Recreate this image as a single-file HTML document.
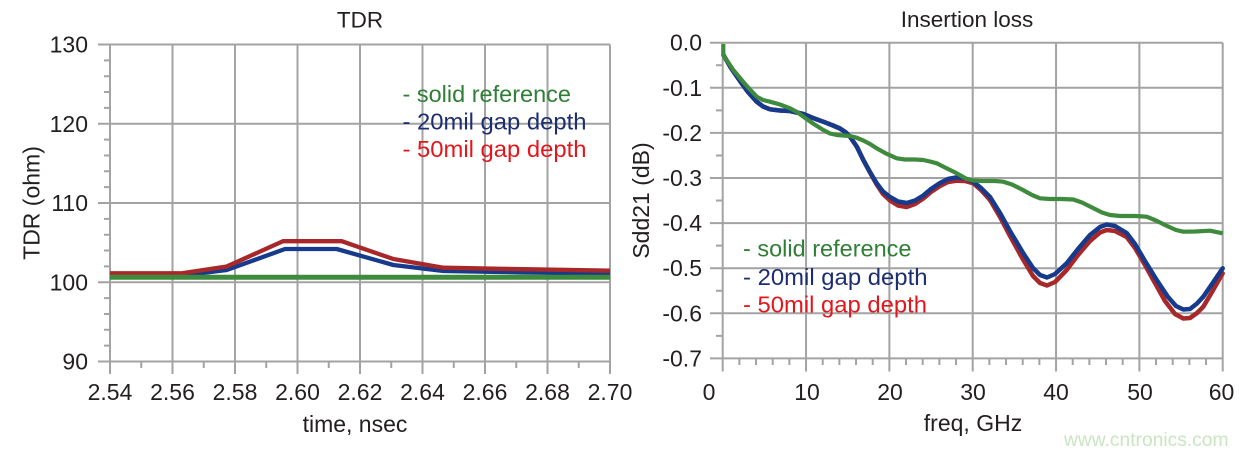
<!DOCTYPE html>
<html>
<head>
<meta charset="utf-8">
<style>
  html,body{margin:0;padding:0;background:#fff;}
  body{width:1248px;height:456px;overflow:hidden;}
  svg{display:block;}
  text{font-family:"Liberation Sans", Arial, sans-serif;fill:#231f20;}
</style>
</head>
<body>
<svg width="1248" height="456" viewBox="0 0 1248 456" xmlns="http://www.w3.org/2000/svg">
  <rect x="0" y="0" width="1248" height="456" fill="#ffffff"/>

  <!-- ================= LEFT CHART (TDR) ================= -->
  <g stroke="#a3a3a3" stroke-width="2" fill="none">
    <!-- horizontal gridlines (with left major ticks) -->
    <path d="M98 44.5H610 M98 123.75H610 M98 203H610 M98 282.25H610 M98 361.5H610"/>
    <!-- vertical gridlines (with bottom major ticks) -->
    <path d="M110 44.5V374 M172.5 44.5V374 M235 44.5V374 M297.5 44.5V374 M360 44.5V374 M422.5 44.5V374 M485 44.5V374 M547.5 44.5V374 M610 44.5V374"/>
    <!-- minor y ticks -->
    <path d="M104 60.35H110 M104 76.2H110 M104 92.05H110 M104 107.9H110 M104 139.6H110 M104 155.45H110 M104 171.3H110 M104 187.15H110 M104 218.85H110 M104 234.7H110 M104 250.55H110 M104 266.4H110 M104 298.1H110 M104 313.95H110 M104 329.8H110 M104 345.65H110"/>
    <!-- minor x ticks -->
    <path d="M141.25 361.5V368 M203.75 361.5V368 M266.25 361.5V368 M328.75 361.5V368 M391.25 361.5V368 M453.75 361.5V368 M516.25 361.5V368 M578.75 361.5V368"/>
  </g>

  <!-- TDR curves -->
  <polyline fill="none" stroke="#163a8c" stroke-width="4.3" stroke-linejoin="round"
    points="110,275 186.7,275 226.7,270 285,249 336.7,249 393.3,265 443.3,271 500,272 560,273 610,273.7"/>
  <polyline fill="none" stroke="#a8282a" stroke-width="4.3" stroke-linejoin="round"
    points="110,273.3 182,273.3 226.7,266.5 283,241.2 341.7,241.2 393.3,259 443.3,267.7 500,268.8 560,269.8 610,270.7"/>
  <line x1="110" y1="277.3" x2="610" y2="277.3" stroke="#3e8b3e" stroke-width="5"/>

  <!-- left y labels -->
  <g font-size="23" text-anchor="end">
    <text x="88" y="52.5">130</text>
    <text x="88" y="131.75">120</text>
    <text x="88" y="211">110</text>
    <text x="88" y="290.25">100</text>
    <text x="88" y="369.5">90</text>
  </g>
  <!-- left x labels -->
  <g font-size="23" text-anchor="middle">
    <text x="110" y="400">2.54</text>
    <text x="172.5" y="400">2.56</text>
    <text x="235" y="400">2.58</text>
    <text x="297.5" y="400">2.60</text>
    <text x="360" y="400">2.62</text>
    <text x="422.5" y="400">2.64</text>
    <text x="485" y="400">2.66</text>
    <text x="547.5" y="400">2.68</text>
    <text x="610" y="400">2.70</text>
  </g>
  <text x="355" y="432" font-size="23" text-anchor="middle">time, nsec</text>
  <text x="360" y="27.3" font-size="22.5" text-anchor="middle">TDR</text>
  <text transform="translate(39.5,203) rotate(-90)" font-size="23" text-anchor="middle">TDR (ohm)</text>

  <!-- left legend -->
  <g font-size="23.5">
    <text x="402.5" y="102" fill="#2f7e35" style="fill:#2f7e35" textLength="168.5" lengthAdjust="spacingAndGlyphs">- solid reference</text>
    <text x="402.5" y="129.5" style="fill:#1c2d72" textLength="184" lengthAdjust="spacingAndGlyphs">- 20mil gap depth</text>
    <text x="402.5" y="157" style="fill:#e3161c" textLength="184" lengthAdjust="spacingAndGlyphs">- 50mil gap depth</text>
  </g>

  <!-- ================= RIGHT CHART (Insertion loss) ================= -->
  <g stroke="#a3a3a3" stroke-width="2" fill="none">
    <!-- horizontal gridlines with left major ticks -->
    <path d="M710 42.7H1222.7 M710 87.8H1222.7 M710 132.9H1222.7 M710 178H1222.7 M710 223.1H1222.7 M710 268.2H1222.7 M710 313.3H1222.7 M710 358.4H1222.7"/>
    <!-- vertical gridlines with bottom major ticks -->
    <path d="M722.7 42.7V371.5 M806.03 42.7V371.5 M889.37 42.7V371.5 M972.7 42.7V371.5 M1056.03 42.7V371.5 M1139.37 42.7V371.5 M1222.7 42.7V371.5"/>
    <!-- minor y ticks -->
    <path d="M716 65.25H722.7 M716 110.35H722.7 M716 155.45H722.7 M716 200.55H722.7 M716 245.65H722.7 M716 290.75H722.7 M716 335.85H722.7"/>
    <!-- minor x ticks every 2 GHz -->
    <path d="M739.37 358.4V365 M756.03 358.4V365 M772.7 358.4V365 M789.37 358.4V365 M822.7 358.4V365 M839.37 358.4V365 M856.03 358.4V365 M872.7 358.4V365 M906.03 358.4V365 M922.7 358.4V365 M939.37 358.4V365 M956.03 358.4V365 M989.37 358.4V365 M1006.03 358.4V365 M1022.7 358.4V365 M1039.37 358.4V365 M1072.7 358.4V365 M1089.37 358.4V365 M1106.03 358.4V365 M1122.7 358.4V365 M1156.03 358.4V365 M1172.7 358.4V365 M1189.37 358.4V365 M1206.03 358.4V365"/>
  </g>

  <!-- red (50mil) -->
  <polyline fill="none" stroke="#a8282a" stroke-width="4.5" stroke-linejoin="round" stroke-linecap="round"
    points="723.5,55 731,68 740,81 748,92 756.7,101.7 763,106.5 770,109.3 780,110.5 790,111 803.3,114 813,118 823.3,121.7 833,125.5 840,128.5 846,132.5 850,136.7 857,147 863.3,160 870,172.5 876.7,184.5 883,194 890,200.5 898,205.5 906.7,207 915,204 923.3,198.5 931,192 940,186 948,182 956.7,180.7 965,181 973.3,183.3 981,190 990,200 1000,217 1010,236 1023.3,260 1033,276 1040,283 1047,285.5 1055,282 1066.7,270 1078,255 1090,241 1100,232.5 1106.7,230 1115,231 1126.7,237 1135,248 1145,265 1153.3,280 1165,301 1175,314 1183.3,318.5 1190,318 1197,313 1203.3,306.7 1212,292 1222.7,273.3"/>
  <!-- blue (20mil) -->
  <polyline fill="none" stroke="#163a8c" stroke-width="4.5" stroke-linejoin="round" stroke-linecap="round"
    points="723.5,55 731,68 740,81 748,92 756.7,101.7 763,106.5 770,109.3 780,110.5 790,111 803.3,114 813,118 823.3,121.7 833,125.5 840,128.5 846,132.5 850,136.7 857,147 863.3,160 870,172 876.7,183.3 883,191.5 890,197 898,201.5 906.7,203 915,200.5 923.3,195.5 931,189 940,183 948,179 956.7,177.3 965,178.3 973.3,181.7 981,188 990,197 1000,213 1010,231 1023.3,253.3 1033,268 1040,275 1047,277.5 1055,274 1066.7,263.3 1078,249 1090,235 1100,227 1106.7,224.5 1115,226 1126.7,233 1135,244 1145,261 1156.7,280 1168,297 1176,306 1183.3,309.5 1190,309 1197,303.5 1203.3,296.7 1212,284 1222.7,268.3"/>
  <!-- green (solid ref) -->
  <polyline fill="none" stroke="#3e8b3e" stroke-width="4.2" stroke-linejoin="round"
    points="723.3,44 723.3,55 733.3,70 745,84 756.7,96.7 763,100 770,101.7 780,104.5 790,108.3 797,112 803.3,116.7 813,123.5 823.3,130 830,133.5 836.7,135 850,136 856,137.5 863.3,140.5 870,144 876.7,148.3 886,153.5 896.7,158.3 905,159.5 915,159.5 923.3,160 930,161.5 936.7,163.3 946,168 956.7,173.3 966.7,179 973.3,180.5 983,181 995,181 1003.3,181.7 1012,184.5 1022,189.5 1032,195 1040,198.3 1050,199 1062,199 1073.3,199.5 1082,202.5 1092,207.5 1102,212.5 1110,215 1120,216 1135,216 1146.7,216.7 1156,220.5 1166,225.5 1176,230 1183.3,231.7 1195,231.5 1210,230.7 1222.7,233.3"/>

  <!-- right y labels -->
  <g font-size="23" text-anchor="end">
    <text x="702" y="50.7">0.0</text>
    <text x="702" y="95.8">-0.1</text>
    <text x="702" y="140.9">-0.2</text>
    <text x="702" y="186">-0.3</text>
    <text x="702" y="231.1">-0.4</text>
    <text x="702" y="276.2">-0.5</text>
    <text x="702" y="321.3">-0.6</text>
    <text x="702" y="366.4">-0.7</text>
  </g>
  <!-- right x labels -->
  <g font-size="23" text-anchor="middle">
    <text x="709" y="400">0</text>
    <text x="807" y="400">10</text>
    <text x="890" y="400">20</text>
    <text x="973" y="400">30</text>
    <text x="1056" y="400">40</text>
    <text x="1140" y="400">50</text>
    <text x="1221.5" y="400">60</text>
  </g>
  <text x="973" y="431" font-size="23" text-anchor="middle">freq, GHz</text>
  <text x="967" y="27" font-size="22.5" text-anchor="middle">Insertion loss</text>
  <text transform="translate(649,200.5) rotate(-90)" font-size="23" text-anchor="middle">Sdd21 (dB)</text>

  <!-- right legend -->
  <g font-size="23.5">
    <text x="743" y="256.7" style="fill:#2f7e35" textLength="168.5" lengthAdjust="spacingAndGlyphs">- solid reference</text>
    <text x="743" y="285" style="fill:#1c2d72" textLength="184.5" lengthAdjust="spacingAndGlyphs">- 20mil gap depth</text>
    <text x="743" y="312.7" style="fill:#e3161c" textLength="184" lengthAdjust="spacingAndGlyphs">- 50mil gap depth</text>
  </g>

  <!-- watermark -->
  <text x="1064" y="446" font-size="19" style="fill:#c9e5c1" textLength="164.5" lengthAdjust="spacingAndGlyphs">www.cntronics.com</text>
</svg>
</body>
</html>
